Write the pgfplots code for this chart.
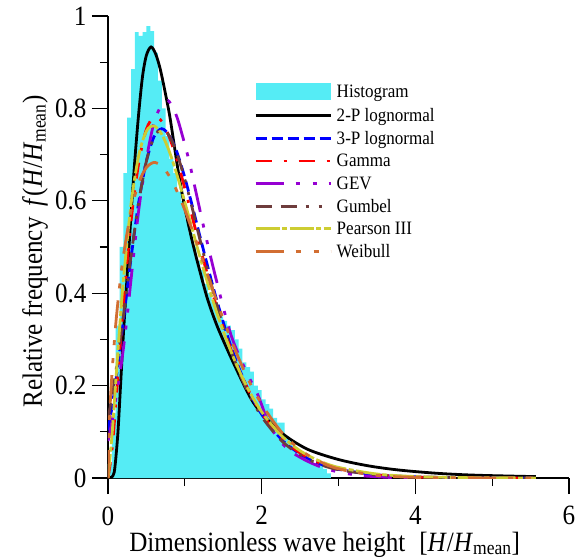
\documentclass[border=0pt]{standalone}
\usepackage{fontspec}
\setmainfont{Liberation Serif}[FakeStretch=0.9]
\usepackage{pgfplots}
\pgfplotsset{compat=1.18}

\definecolor{histc}{RGB}{85,236,245}
\definecolor{gevc}{RGB}{150,0,210}
\definecolor{gumc}{RGB}{110,60,60}
\definecolor{pearc}{RGB}{205,205,50}
\definecolor{weic}{RGB}{210,110,50}

\begin{document}
\begin{tikzpicture}
\begin{axis}[
  scale only axis, width=461bp, height=462bp,
  xmin=0, xmax=6, ymin=0, ymax=1,
  axis x line*=bottom, axis y line*=left,
  axis line style={line width=1.2bp},
  xtick={0,2,4,6}, minor xtick={1,3,5},
  ytick={0,0.2,0.4,0.6,0.8,1}, minor ytick={0.1,0.3,0.5,0.7,0.9},
  tick align=outside, major tick length=16bp, minor tick length=8bp,
  tick style={black, line width=1.2bp},
  tick label style={font=\fontsize{28}{33}\selectfont},
  label style={font=\fontsize{28}{33}\selectfont},
  /pgf/number format/assume math mode=true,
  xticklabel style={yshift=-9bp},
  yticklabel style={xshift=-2bp},
  xlabel={Dimensionless wave height\hspace{0.5em}[\textit{H}/\textit{H}\textsubscript{mean}]},
  ylabel={Relative frequency\hspace{0.4em}\textit{f}(\textit{H}/\textit{H}\textsubscript{mean})},
  xlabel style={at={(axis description cs:0.47,0)}, anchor=base, yshift=-73bp},
  ylabel style={at={(axis description cs:-0.158,0.49)}, anchor=center},
  legend style={draw=none, fill=none, inner sep=0pt,
    at={(axis description cs:0.317,0.855)}, anchor=north west,
    font=\fontsize{19}{22}\selectfont, row sep=7.2bp, column sep=4bp,
    nodes={inner sep=0.6bp}},
  legend cell align=left,
  legend image code/.code={\draw[#1] (0bp,0bp) -- (75bp,0bp);},
  every axis plot/.append style={line width=2.8bp},
]

% histogram (bin left edges, width 0.05)
\addplot[const plot, fill=histc, draw=none,
  legend image code/.code={\fill[histc] (0bp,-8.5bp) rectangle (75bp,8.5bp);}]
coordinates {
(0,0.03) (0.05,0.14) (0.1,0.33) (0.15,0.5) (0.2,0.66) (0.25,0.78) (0.3,0.885)
(0.35,0.965) (0.4,0.957) (0.45,0.965) (0.5,0.978) (0.55,0.967) (0.6,0.92)
(0.65,0.86) (0.7,0.8) (0.75,0.74) (0.8,0.69) (0.85,0.66) (0.9,0.62) (0.95,0.6)
(1,0.56) (1.05,0.53) (1.1,0.5) (1.15,0.47) (1.2,0.45) (1.25,0.42) (1.3,0.4)
(1.35,0.38) (1.4,0.36) (1.45,0.35) (1.5,0.34) (1.55,0.33) (1.6,0.32) (1.65,0.3)
(1.7,0.28) (1.75,0.25) (1.8,0.24) (1.85,0.23) (1.9,0.2) (1.95,0.19) (2,0.17)
(2.05,0.16) (2.1,0.15) (2.15,0.13) (2.2,0.12) (2.25,0.12) (2.3,0.09) (2.35,0.08)
(2.4,0.07) (2.45,0.06) (2.5,0.05) (2.55,0.04) (2.6,0.035) (2.65,0.03) (2.7,0.025)
(2.75,0.035) (2.8,0.02) (2.85,0.01) (2.9,0.01)
} \closedcycle;
\addlegendentry{Histogram}

% 2-P lognormal
\addplot[black, smooth] coordinates {
(0,0) (0.05,0.002) (0.08,0.012) (0.1,0.04) (0.13,0.10) (0.16,0.19) (0.2,0.31)
(0.25,0.44) (0.3,0.57) (0.35,0.69) (0.4,0.79) (0.45,0.87) (0.5,0.915) (0.56,0.933)
(0.62,0.918) (0.68,0.885) (0.75,0.83) (0.81,0.777) (0.91,0.668) (1.0,0.585)
(1.1,0.51) (1.2,0.445) (1.3,0.385) (1.43,0.325) (1.63,0.25) (1.85,0.175) (2.0,0.14)
(2.28,0.095) (2.6,0.062) (3.0,0.04) (3.4,0.026) (3.8,0.017) (4.3,0.010) (4.8,0.006)
(5.57,0.003)
};
\addlegendentry{2-P lognormal}

% 3-P lognormal
\addplot[blue, smooth, dash pattern=on 11bp off 5bp] coordinates {
(0,0.103) (0.05,0.151) (0.1,0.208) (0.15,0.272) (0.2,0.340) (0.3,0.476) (0.4,0.597)
(0.5,0.686) (0.6,0.739) (0.7,0.756) (0.8,0.741) (0.9,0.704) (1.0,0.650) (1.1,0.587)
(1.2,0.521) (1.4,0.394) (1.6,0.285) (1.8,0.200) (2.0,0.138) (2.25,0.085) (2.5,0.052)
(2.75,0.031) (3.0,0.0187) (3.5,0.0068) (4.0,0.0025) (4.5,0.0009) (5.0,0.0003) (5.57,0.0001)
};
\addlegendentry{3-P lognormal}

% Gamma
\addplot[red, smooth, dash pattern=on 16bp off 12bp on 3bp off 12bp] coordinates {
(0,0) (0.05,0.058) (0.1,0.157) (0.15,0.267) (0.2,0.373) (0.3,0.556) (0.4,0.682)
(0.5,0.755) (0.6,0.781) (0.7,0.772) (0.8,0.737) (0.9,0.687) (1.0,0.627) (1.1,0.563)
(1.2,0.498) (1.4,0.378) (1.6,0.278) (1.8,0.199) (2.0,0.140) (2.25,0.088) (2.5,0.054)
(2.75,0.033) (3.0,0.020) (3.5,0.0067) (4.0,0.0022) (4.5,0.0007) (5.0,0.0002) (5.57,0.0001)
};
\addlegendentry{Gamma}

% GEV
\addplot[gevc, smooth, dash pattern=on 28bp off 12bp on 4bp off 13bp on 4bp off 12bp] coordinates {
(0,0.08) (0.05,0.12) (0.1,0.17) (0.15,0.22) (0.2,0.28) (0.25,0.35) (0.3,0.43)
(0.4,0.58) (0.5,0.69) (0.6,0.77) (0.7,0.808) (0.78,0.817) (0.85,0.80) (0.9,0.78)
(0.95,0.752) (1.05,0.69) (1.15,0.615) (1.25,0.54) (1.4,0.435) (1.6,0.31) (1.8,0.23)
(1.95,0.18) (2.1,0.115) (2.25,0.078) (2.4,0.055) (2.6,0.036) (2.8,0.022) (3.0,0.013)
(3.3,0.005) (3.7,0.001) (4.0,0)
};
\addlegendentry{GEV}

% Gumbel
\addplot[gumc, smooth, dash pattern=on 16bp off 9bp on 16bp off 9bp on 3bp off 10bp on 3bp off 10bp] coordinates {
(0,0.128) (0.05,0.175) (0.1,0.228) (0.15,0.288) (0.2,0.351) (0.3,0.481) (0.4,0.597)
(0.5,0.686) (0.6,0.738) (0.7,0.755) (0.8,0.740) (0.9,0.701) (1.0,0.646) (1.1,0.582)
(1.2,0.514) (1.4,0.385) (1.6,0.276) (1.8,0.193) (2.0,0.133) (2.25,0.082) (2.5,0.050)
(2.75,0.030) (3.0,0.018) (3.5,0.0066) (4.0,0.0023) (4.5,0.0008) (5.0,0.0003) (5.57,0.0001)
};
\addlegendentry{Gumbel}

% Pearson III
\addplot[pearc, smooth, dash pattern=on 24bp off 2.5bp on 5bp off 2.5bp] coordinates {
(0,0) (0.05,0.088) (0.1,0.206) (0.15,0.322) (0.2,0.427) (0.3,0.593) (0.4,0.698)
(0.5,0.751) (0.6,0.762) (0.7,0.744) (0.8,0.706) (0.9,0.655) (1.0,0.597) (1.1,0.537)
(1.2,0.477) (1.4,0.366) (1.6,0.274) (1.8,0.200) (2.0,0.143) (2.25,0.093) (2.5,0.059)
(2.75,0.037) (3.0,0.023) (3.5,0.0086) (4.0,0.0031) (4.5,0.0011) (5.0,0.0004) (5.57,0.0001)
};
\addlegendentry{Pearson III}

% Weibull
\addplot[weic, smooth, dash pattern=on 28bp off 12bp on 5bp off 13bp on 5bp off 12bp] coordinates {
(0,0) (0.02,0.128) (0.05,0.221) (0.1,0.331) (0.15,0.413) (0.2,0.480) (0.3,0.578)
(0.4,0.639) (0.5,0.672) (0.6,0.683) (0.7,0.675) (0.8,0.653) (0.9,0.620) (1.0,0.580)
(1.1,0.535) (1.2,0.487) (1.4,0.390) (1.6,0.300) (1.8,0.222) (2.0,0.160) (2.25,0.101)
(2.5,0.061) (2.75,0.036) (3.0,0.020) (3.5,0.0056) (4.0,0.0014) (4.5,0.0003) (5.0,0.0001)
(5.57,0)
};
\addlegendentry{Weibull}

\end{axis}
\pgfresetboundingbox
\path ([shift={(-108bp,-81bp)}]current axis.south west)
  rectangle ([shift={(18bp,16bp)}]current axis.north east);
\end{tikzpicture}
\end{document}
